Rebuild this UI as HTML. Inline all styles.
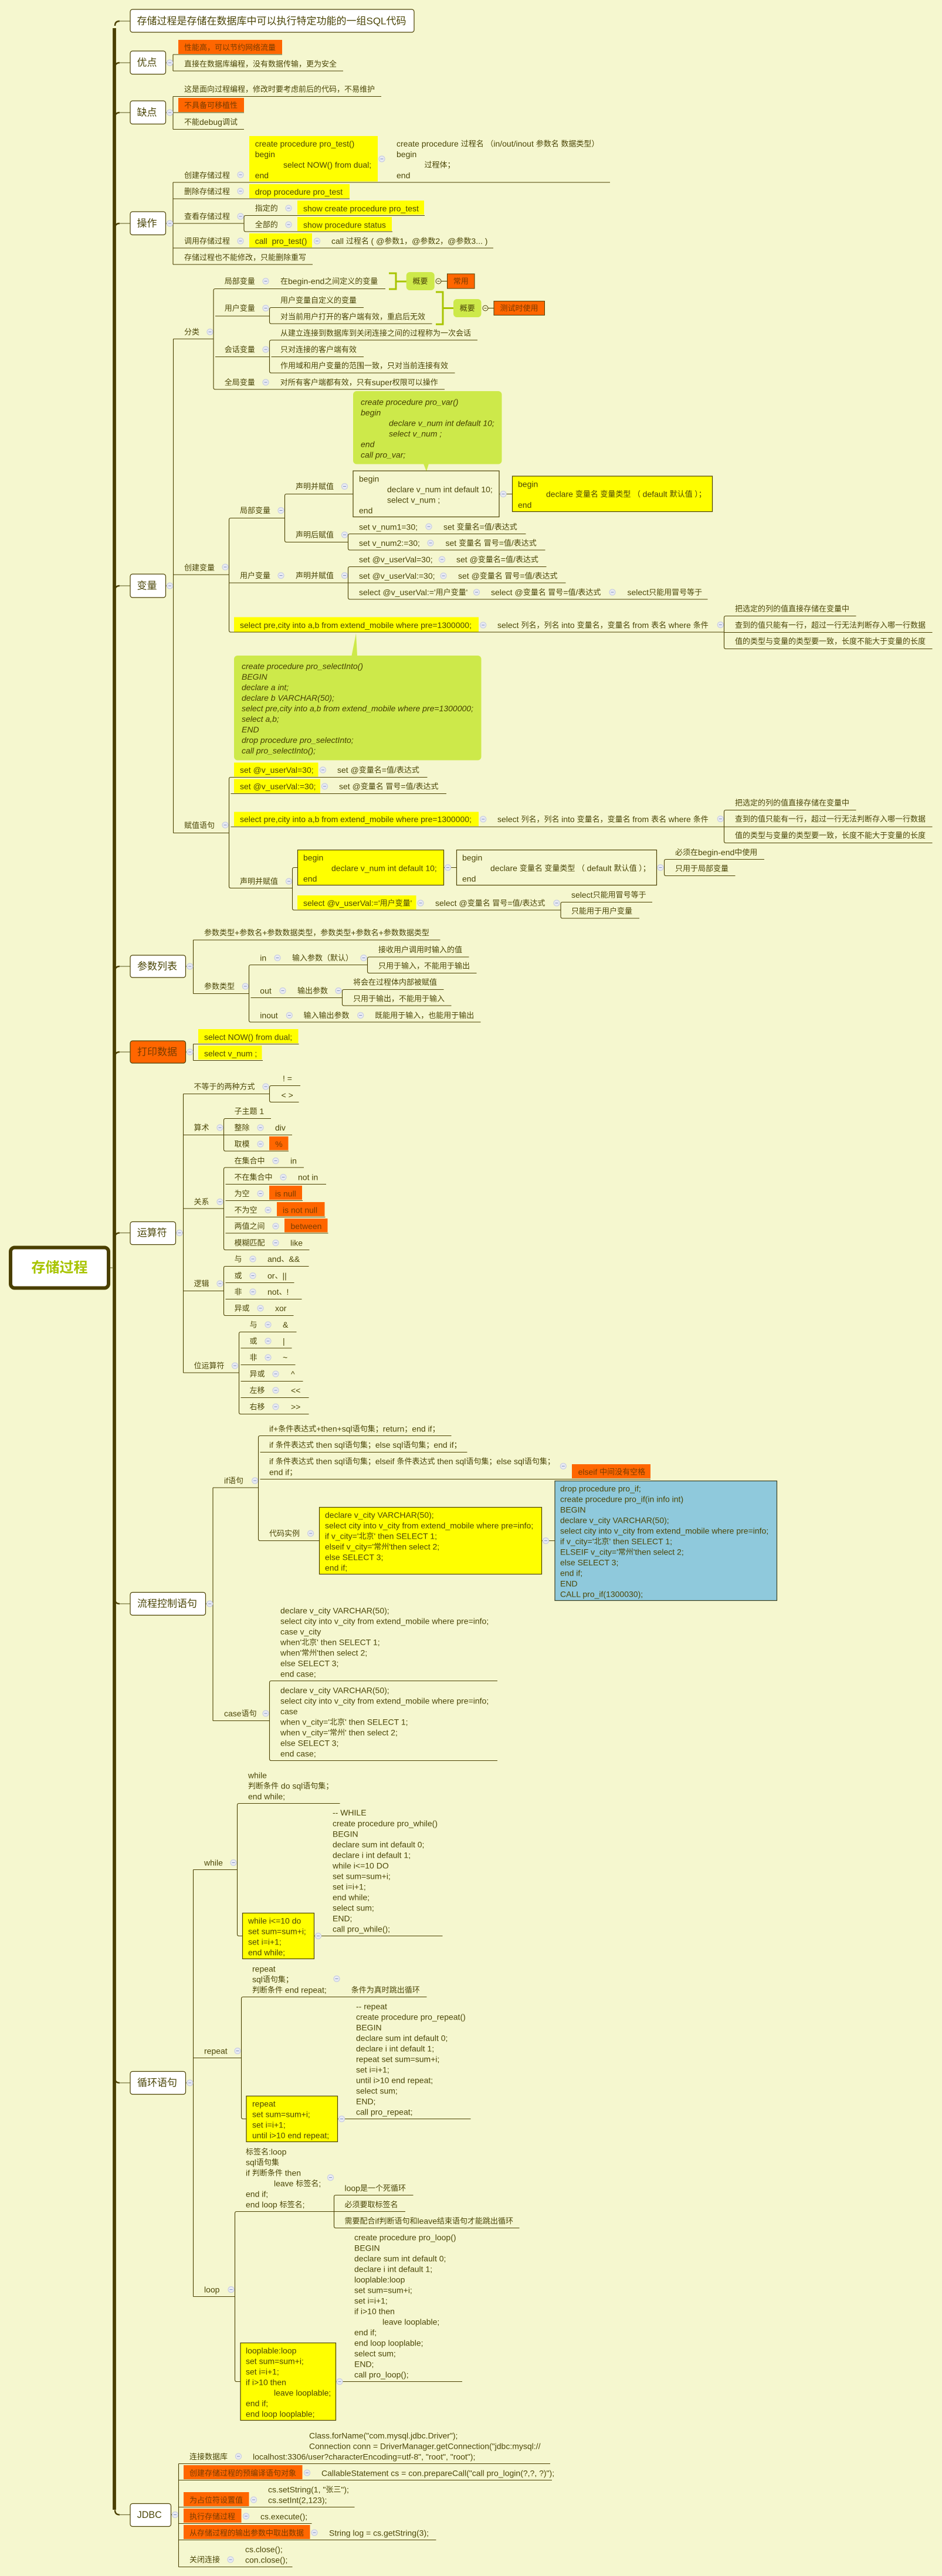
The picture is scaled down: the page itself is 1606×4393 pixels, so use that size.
<!DOCTYPE html>
<html lang="zh"><head><meta charset="utf-8"><title>存储过程</title>
<style>
html,body{margin:0;padding:0;background:#f5f7cf}
svg{display:block}
text{font-family:"Liberation Sans","Noto Sans CJK SC",sans-serif;font-size:14px;fill:#4c4708;dominant-baseline:central;white-space:pre}
.c{font-size:13px}
.e{font-size:14px}
.h{font-size:17px}
.it{font-style:italic;fill:#454000}
.o{fill:#7a3c00}
.l{fill:none;stroke:#4a4000;stroke-width:1.1}
.cr{fill:none;stroke:#4a3f00;stroke-width:2.4}
.bl{fill:none;stroke:#77753f;stroke-width:1.2}
.bx{fill:#fff;stroke:#4a4000;stroke-width:1.2}
.or{fill:#ff6600}
.ye{fill:#ffff00}
.yb{fill:#ffff00;stroke:#4a4000;stroke-width:1.2}
.gn{fill:#cde94a}
.nb{fill:none;stroke:#4a4000;stroke-width:1.2}
</style></head><body>
<svg xmlns="http://www.w3.org/2000/svg" width="1606" height="4393" viewBox="0 0 1606 4393">
<defs><g id="i"><circle r="5" fill="#e9ebf3" stroke="#c9cee2" stroke-width="1.2"/><path d="M-2.5,0H2.5" stroke="#7f8fc0" stroke-width="1"/></g></defs>
<rect width="1606" height="4393" fill="#f5f7cf"/>

<path d="M195,4280V48" fill="none" stroke="#4a3f00" stroke-width="5.800"/>
<path class="cr" d="M196,44Q196,36 204,36M196,115Q196,107 204,107M196,200Q196,192 204,192M196,389Q196,381 204,381M196,1007Q196,999 204,999M196,1656Q196,1648 204,1648M196,1802Q196,1794 204,1794M196,2110.500Q196,2102.500 204,2102.500M196,2727Q196,2735 204,2735M196,3544Q196,3552 204,3552M196,4280.500Q196,4288.500 204,4288.500"/>
<path class="bl" d="M203,36H222M203,107H222M203,192H222M203,381H222M203,999H222M203,1648H222M203,1794H222M203,2102.500H222M203,2735H222M203,3552H222M203,4288.500H222M187,2162H193"/>

<rect x="18" y="2127.500" width="167" height="69" rx="7" fill="#fff" stroke="#4a3f00" stroke-width="6"/>
<text x="101.500" y="2162" text-anchor="middle" style="font-size:24px;font-weight:bold;fill:#a8c400">存储过程</text>

<rect class="bx" x="222" y="16" width="484" height="39" rx="4"/>
<text x="233.500" y="36" style="font-size:17px">存储过程是存储在数据库中可以执行特定功能的一组SQL代码</text>

<!-- 优点 -->
<rect class="bx" x="222" y="87" width="60.500" height="39.500" rx="4"/>
<text class="h" x="233.500" y="107">优点</text>
<path class="l" d="M282,107H295M295,93V121M295,93H481M295,121H585"/>
<rect class="or" x="304" y="68" width="177" height="24"/>
<text class="c o" x="314" y="81">性能高，可以节约网络流量</text>
<text class="c" x="314" y="109">直接在数据库编程，没有数据传输，更为安全</text>
<use href="#i" x="289.500" y="107"/>

<!-- 缺点 -->
<rect class="bx" x="222" y="172" width="60.500" height="39.500" rx="4"/>
<text class="h" x="233.500" y="192">缺点</text>
<path class="l" d="M282,192H295M295,164.500V220.500M295,164.500H650M295,192H416M295,220.500H416"/>
<text class="c" x="314" y="152">这是面向过程编程，修改时要考虑前后的代码，不易维护</text>
<rect class="or" x="304" y="167" width="112" height="24"/>
<text class="c o" x="314" y="179.500">不具备可移植性</text>
<text class="c" x="314" y="208">不能<tspan class="e">debug</tspan>调试</text>
<use href="#i" x="289.500" y="192"/>

<!-- 操作 -->
<rect class="bx" x="222" y="361" width="60.500" height="39.500" rx="4"/>
<text class="h" x="233.500" y="381">操作</text>
<path class="l" d="M282,381H295M295,311V451M295,311H1040M295,339H596M295,381H416M419,367.500Q416,367.500 416,370.500V392Q416,395 419,395M419,367.500H724M419,395H669M295,423H841M295,451H533"/>
<text class="c" x="314" y="299">创建存储过程</text><use href="#i" x="410" y="298"/>
<rect class="ye" x="425" y="232" width="219" height="77.500"/>
<text x="434.700" y="245">create procedure pro_test()</text>
<text x="434.700" y="263">begin</text>
<text x="483" y="281">select NOW() from dual;</text>
<text x="434.700" y="299">end</text>
<use href="#i" x="651" y="271"/>
<text class="c" x="676" y="245"><tspan class="e">create procedure </tspan>过程名 （<tspan class="e">in/out/inout </tspan>参数名 数据类型）</text>
<text x="676" y="263">begin</text>
<text class="c" x="723.500" y="281">过程体；</text>
<text x="676" y="299">end</text>
<text class="c" x="314" y="326.500">删除存储过程</text><use href="#i" x="410" y="326"/>
<rect class="ye" x="425" y="314" width="171" height="24"/>
<text x="434.700" y="327">drop procedure pro_test</text>
<text class="c" x="314" y="369">查看存储过程</text><use href="#i" x="410" y="369"/>
<text class="c" x="434.700" y="355">指定的</text><use href="#i" x="492" y="355"/>
<rect class="ye" x="507" y="342" width="216" height="24"/>
<text x="517" y="355.500">show create procedure pro_test</text>
<text class="c" x="434.700" y="383">全部的</text><use href="#i" x="492" y="383"/>
<rect class="ye" x="507" y="370" width="161" height="24"/>
<text x="517" y="383.500">show procedure status</text>
<text class="c" x="314" y="411">调用存储过程</text><use href="#i" x="410" y="411"/>
<rect class="ye" x="425" y="398" width="107" height="24"/>
<text x="434.700" y="411">call  pro_test()</text>
<use href="#i" x="540.500" y="411"/>
<text class="c" x="565" y="411"><tspan class="e">call </tspan>过程名 <tspan class="e">( @</tspan>参数<tspan class="e">1</tspan>，<tspan class="e">@</tspan>参数<tspan class="e">2</tspan>，<tspan class="e">@</tspan>参数<tspan class="e">3... )</tspan></text>
<text class="c" x="314" y="439">存储过程也不能修改，只能删除重写</text>
<use href="#i" x="289.500" y="381"/>

<!-- 变量 -->
<rect class="bx" x="222" y="979" width="60.500" height="40" rx="4"/>
<text class="h" x="233.500" y="999">变量</text>
<path class="l" d="M282,999H295.500M295.500,578V1420.500M295.500,578H364M295.500,980H390.500M295.500,1420.500H390.500"/>
<text class="c" x="314" y="566">分类</text><use href="#i" x="358" y="566"/>
<path class="l" d="M367,492.500Q364,492.500 364,495.500V661Q364,664 367,664M367,492.500H657M367,539H459.500M367,608.500H459.500M367,664H758"/>
<text class="c" x="382.700" y="479.500">局部变量</text><use href="#i" x="453" y="479.500"/>
<text class="c" x="478" y="479.500">在<tspan class="e">begin-end</tspan>之间定义的变量</text>
<path d="M663,466H675V493H663M675,480H693" fill="none" stroke="#a8c400" stroke-width="3"/>
<rect x="692.700" y="464" width="48" height="31" rx="6" fill="#cde94a"/>
<text class="c" x="716.500" y="479.500" text-anchor="middle">概要</text>
<path class="l" d="M747,479.500H762.500"/><circle cx="747.500" cy="479.500" r="4.500" fill="#f5f7cf" stroke="#4a4000"/>
<path d="M745.500,479.500H749.500" stroke="#4a4000"/>
<rect x="762.500" y="467" width="46.500" height="25" fill="#ff6600" stroke="#4a4000"/>
<text class="c o" x="785.700" y="479.500" text-anchor="middle">常用</text>
<text class="c" x="382.700" y="525.500">用户变量</text><use href="#i" x="453" y="525.500"/>
<path class="l" d="M462.500,524.500Q459.500,524.500 459.500,527.500V549Q459.500,552 462.500,552M462.500,524.500H620M462.500,552H736.500"/>
<text class="c" x="478" y="512">用户变量自定义的变量</text>
<text class="c" x="478" y="540">对当前用户打开的客户端有效，重启后无效</text>
<path d="M743,498H755V553H743M755,525.500H773" fill="none" stroke="#a8c400" stroke-width="3"/>
<rect x="773" y="510" width="47.500" height="31" rx="6" fill="#cde94a"/>
<text class="c" x="796.700" y="525.500" text-anchor="middle">概要</text>
<path class="l" d="M827,525.500H842"/><circle cx="827.500" cy="525.500" r="4.500" fill="#f5f7cf" stroke="#4a4000"/>
<path d="M825.500,525.500H829.500" stroke="#4a4000"/>
<rect x="842" y="513.500" width="86.500" height="24" fill="#ff6600" stroke="#4a4000"/>
<text class="c o" x="885" y="525.500" text-anchor="middle">测试时使用</text>
<text class="c" x="382.700" y="596">会话变量</text><use href="#i" x="453" y="596"/>
<path class="l" d="M462.500,580Q459.500,580 459.500,583V633Q459.500,636 462.500,636M462.500,580H814M462.500,608.500H620M462.500,636H775.500"/>
<text class="c" x="478" y="568">从建立连接到数据库到关闭连接之间的过程称为一次会话</text>
<text class="c" x="478" y="596">只对连接的客户端有效</text>
<text class="c" x="478" y="623.500">作用域和用户变量的范围一致，只对当前连接有效</text>
<text class="c" x="382.700" y="652">全局变量</text><use href="#i" x="453" y="652"/>
<text class="c" x="477.700" y="652">对所有客户端都有效，只有<tspan class="e">super</tspan>权限可以操作</text>

<!-- note 1 -->
<rect class="gn" x="602" y="667" width="253.500" height="124.500" rx="6"/>
<polygon class="gn" points="722,791 731,791 727,804"/>
<text class="it" x="615" y="685.500">create procedure pro_var()</text>
<text class="it" x="615" y="703.500">begin</text>
<text class="it" x="663" y="721.500">declare v_num int default 10;</text>
<text class="it" x="663" y="739.500">select v_num ;</text>
<text class="it" x="615" y="757.500">end</text>
<text class="it" x="615" y="775.500">call pro_var;</text>

<!-- 创建变量 -->
<text class="c" x="314" y="968">创建变量</text><use href="#i" x="384" y="967"/>
<path class="l" d="M393.500,883.500Q390.500,883.500 390.500,886.500V1075Q390.500,1078 393.500,1078M393.500,883.500H485.500M390.500,994H593.500M393.500,1078H1234.500"/>
<text class="c" x="409" y="870.500">局部变量</text><use href="#i" x="479" y="870.500"/>
<path class="l" d="M488.500,842.500Q485.500,842.500 485.500,845.500V921.500Q485.500,924.500 488.500,924.500M488.500,842.500H602M488.500,924.500H593.500"/>
<text class="c" x="504" y="829.500">声明并赋值</text><use href="#i" x="587.500" y="829.500"/>
<rect class="nb" x="602" y="803" width="249" height="78.500"/>
<text x="612" y="816.500">begin</text>
<text x="660" y="834.500">declare v_num int default 10;</text>
<text x="660" y="852.500">select v_num ;</text>
<text x="612" y="870.500">end</text>
<path class="l" d="M851,842.500H873.500"/><use href="#i" x="858" y="842.500"/>
<rect class="yb" x="873.500" y="812" width="341" height="60.500"/>
<text x="883" y="825.500">begin</text>
<text class="c" x="931" y="842.500"><tspan class="e">declare </tspan>变量名 变量类型 （ <tspan class="e">default </tspan>默认值 ）；</text>
<text x="883" y="861">end</text>

<text class="c" x="504" y="912">声明后赋值</text><use href="#i" x="587.500" y="912"/>
<path class="l" d="M596.500,910.500Q593.500,910.500 593.500,913.500V935Q593.500,938 596.500,938M596.500,910.500H896.500M596.500,938H929.500"/>
<text x="612" y="898.500">set v_num1=30;</text><use href="#i" x="731" y="898"/>
<text class="c" x="756" y="898.500"><tspan class="e">set </tspan>变量名<tspan class="e">=</tspan>值<tspan class="e">/</tspan>表达式</text>
<text x="612" y="926">set v_num2:=30;</text><use href="#i" x="734" y="926"/>
<text class="c" x="759.500" y="926"><tspan class="e">set </tspan>变量名 冒号<tspan class="e">=</tspan>值<tspan class="e">/</tspan>表达式</text>

<text class="c" x="409" y="981.500">用户变量</text><use href="#i" x="479" y="981.500"/>
<text class="c" x="504" y="981.500">声明并赋值</text><use href="#i" x="587.500" y="981.500"/>
<path class="l" d="M596.500,966.500Q593.500,966.500 593.500,969.500V1019Q593.500,1022 596.500,1022M596.500,966.500H931.500M593.500,994H964.500M596.500,1022H1206.500"/>
<text x="612" y="954">set @v_userVal=30;</text><use href="#i" x="753.500" y="954"/>
<text class="c" x="778" y="954"><tspan class="e">set @</tspan>变量名<tspan class="e">=</tspan>值<tspan class="e">/</tspan>表达式</text>
<text x="612" y="982">set @v_userVal:=30;</text><use href="#i" x="756" y="982"/>
<text class="c" x="781" y="982"><tspan class="e">set @</tspan>变量名 冒号<tspan class="e">=</tspan>值<tspan class="e">/</tspan>表达式</text>
<text class="c" x="612" y="1010"><tspan class="e">select @v_userVal:='</tspan>用户变量<tspan class="e">'</tspan></text><use href="#i" x="812.500" y="1010"/>
<text class="c" x="837" y="1010"><tspan class="e">select @</tspan>变量名 冒号<tspan class="e">=</tspan>值<tspan class="e">/</tspan>表达式</text><use href="#i" x="1044" y="1010"/>
<text class="c" x="1069.500" y="1010"><tspan class="e">select</tspan>只能用冒号等于</text>

<rect class="ye" x="399" y="1052.500" width="417" height="25"/>
<text x="409" y="1066">select pre,city into a,b from extend_mobile where pre=1300000;</text>
<use href="#i" x="823.700" y="1066"/>
<text class="c" x="848" y="1066"><tspan class="e">select </tspan>列名，列名 <tspan class="e">into </tspan>变量名，变量名 <tspan class="e">from </tspan>表名 <tspan class="e">where </tspan>条件</text>
<use href="#i" x="1228.300" y="1065.500"/>
<path class="l" d="M1237.500,1050.500Q1234.500,1050.500 1234.500,1053.500V1103.500Q1234.500,1106.500 1237.500,1106.500M1237.500,1050.500H1459.500M1234.500,1078.500H1589.500M1237.500,1106.500H1589.500"/>
<text class="c" x="1253" y="1038">把选定的列的值直接存储在变量中</text>
<text class="c" x="1253" y="1066">查到的值只能有一行，超过一行无法判断存入哪一行数据</text>
<text class="c" x="1253" y="1093.500">值的类型与变量的类型要一致，长度不能大于变量的长度</text>

<!-- note 2 -->
<polygon class="gn" points="599.500,1118 609,1118 607,1080"/>
<rect class="gn" x="399" y="1118" width="421.500" height="178.500" rx="6"/>
<text class="it" x="412" y="1136">create procedure pro_selectInto()</text>
<text class="it" x="412" y="1154">BEGIN</text>
<text class="it" x="412" y="1172">declare a int;</text>
<text class="it" x="412" y="1190">declare b VARCHAR(50);</text>
<text class="it" x="412" y="1208">select pre,city into a,b from extend_mobile where pre=1300000;</text>
<text class="it" x="412" y="1226">select a,b;</text>
<text class="it" x="412" y="1244">END</text>
<text class="it" x="412" y="1262">drop procedure pro_selectInto;</text>
<text class="it" x="412" y="1280">call pro_selectInto();</text>

<!-- 赋值语句 -->
<text class="c" x="314" y="1407.500">赋值语句</text><use href="#i" x="384" y="1407"/>
<path class="l" d="M393.500,1325.500Q390.500,1325.500 390.500,1328.500V1511.500Q390.500,1514.500 393.500,1514.500M393.500,1325.500H728.500M393.500,1353.500H761M393.500,1410H1234.500M393.500,1514.500H498.500"/>
<rect class="ye" x="399" y="1300.500" width="143.500" height="24"/>
<text x="409" y="1313">set @v_userVal=30;</text><use href="#i" x="550.500" y="1313"/>
<text class="c" x="575" y="1313"><tspan class="e">set @</tspan>变量名<tspan class="e">=</tspan>值<tspan class="e">/</tspan>表达式</text>
<rect class="ye" x="399" y="1328.500" width="147" height="24"/>
<text x="409" y="1341">set @v_userVal:=30;</text><use href="#i" x="553.500" y="1341"/>
<text class="c" x="578" y="1341"><tspan class="e">set @</tspan>变量名 冒号<tspan class="e">=</tspan>值<tspan class="e">/</tspan>表达式</text>
<rect class="ye" x="399" y="1384.500" width="417" height="24.500"/>
<text x="409" y="1397">select pre,city into a,b from extend_mobile where pre=1300000;</text>
<use href="#i" x="823.700" y="1397"/>
<text class="c" x="848" y="1397"><tspan class="e">select </tspan>列名，列名 <tspan class="e">into </tspan>变量名，变量名 <tspan class="e">from </tspan>表名 <tspan class="e">where </tspan>条件</text>
<use href="#i" x="1228.300" y="1396.500"/>
<path class="l" d="M1237.500,1381.500Q1234.500,1381.500 1234.500,1384.500V1434.500Q1234.500,1437.500 1237.500,1437.500M1237.500,1381.500H1459.500M1234.500,1410H1589.500M1237.500,1437.500H1589.500"/>
<text class="c" x="1253" y="1369">把选定的列的值直接存储在变量中</text>
<text class="c" x="1253" y="1396.500">查到的值只能有一行，超过一行无法判断存入哪一行数据</text>
<text class="c" x="1253" y="1424.500">值的类型与变量的类型要一致，长度不能大于变量的长度</text>

<text class="c" x="409" y="1503">声明并赋值</text><use href="#i" x="492.500" y="1503"/>
<path class="l" d="M501.500,1479.500Q498.500,1479.500 498.500,1482.500V1549Q498.500,1552 501.500,1552M501.500,1479.500H507.500M501.500,1552H956"/>
<rect class="yb" x="507.500" y="1449.500" width="249" height="60"/>
<text x="517" y="1462.500">begin</text>
<text x="565" y="1480.500">declare v_num int default 10;</text>
<text x="517" y="1498.500">end</text>
<path class="l" d="M756.500,1479.500H778.500"/><use href="#i" x="763.500" y="1479.500"/>
<rect class="nb" x="778.500" y="1449.500" width="341" height="60"/>
<text x="788" y="1462.500">begin</text>
<text class="c" x="836" y="1480.500"><tspan class="e">declare </tspan>变量名 变量类型 （ <tspan class="e">default </tspan>默认值 ）；</text>
<text x="788" y="1498.500">end</text>
<use href="#i" x="1126" y="1479.500"/>
<path class="l" d="M1135.500,1465.500Q1132.500,1465.500 1132.500,1468.500V1490.500Q1132.500,1493.500 1135.500,1493.500M1135.500,1465.500H1303M1135.500,1493.500H1253.500"/>
<text class="c" x="1151" y="1453.500">必须在<tspan class="e">begin-end</tspan>中使用</text>
<text class="c" x="1151" y="1481">只用于局部变量</text>
<rect class="ye" x="507" y="1527" width="202.500" height="24"/>
<text class="c" x="517" y="1540"><tspan class="e">select @v_userVal:='</tspan>用户变量<tspan class="e">'</tspan></text><use href="#i" x="717" y="1540"/>
<text class="c" x="742" y="1540"><tspan class="e">select @</tspan>变量名 冒号<tspan class="e">=</tspan>值<tspan class="e">/</tspan>表达式</text><use href="#i" x="949" y="1540"/>
<path class="l" d="M959,1538.500Q956,1538.500 956,1541.500V1563Q956,1566 959,1566M959,1538.500H1112M959,1566H1090"/>
<text class="c" x="974" y="1526"><tspan class="e">select</tspan>只能用冒号等于</text>
<text class="c" x="974" y="1553.500">只能用于用户变量</text>
<use href="#i" x="289.500" y="999"/>

<!-- 参数列表 -->
<rect class="bx" x="222" y="1629" width="94.500" height="38" rx="4"/>
<text class="h" x="234" y="1648">参数列表</text>
<path class="l" d="M316,1648H329.500M329.500,1603V1694.500M329.500,1603H750.500M329.500,1694.500H424.500"/>
<use href="#i" x="323.700" y="1648"/>
<text class="c" x="348" y="1590.500">参数类型<tspan class="e">+</tspan>参数名<tspan class="e">+</tspan>参数数据类型，参数类型<tspan class="e">+</tspan>参数名<tspan class="e">+</tspan>参数数据类型</text>
<text class="c" x="348" y="1682">参数类型</text><use href="#i" x="418.300" y="1682"/>
<path class="l" d="M427.500,1645.500Q424.500,1645.500 424.500,1648.500V1740Q424.500,1743 427.500,1743M427.500,1645.500H626.500M427.500,1701.500H583.500M427.500,1743H819.500"/>
<text x="443.300" y="1633.500">in</text><use href="#i" x="473" y="1633.500"/>
<text class="c" x="498" y="1633.500">输入参数（默认）</text><use href="#i" x="620" y="1633.500"/>
<path class="l" d="M629.500,1632Q626.500,1632 626.500,1635V1656.500Q626.500,1659.500 629.500,1659.500M629.500,1632H799.500M629.500,1659.500H812.500"/>
<text class="c" x="645" y="1619.500">接收用户调用时输入的值</text>
<text class="c" x="645" y="1647">只用于输入，不能用于输出</text>
<text x="443.300" y="1689.500">out</text><use href="#i" x="482" y="1689.500"/>
<text class="c" x="507" y="1689.500">输出参数</text><use href="#i" x="577" y="1689.500"/>
<path class="l" d="M586.500,1687.500Q583.500,1687.500 583.500,1690.500V1712Q583.500,1715 586.500,1715M586.500,1687.500H756.500M586.500,1715H769.500"/>
<text class="c" x="602" y="1675">将会在过程体内部被赋值</text>
<text class="c" x="602" y="1703">只用于输出，不能用于输入</text>
<text x="443.300" y="1731.500">inout</text><use href="#i" x="493.300" y="1731.500"/>
<text class="c" x="517.500" y="1731.500">输入输出参数</text><use href="#i" x="614.700" y="1731.500"/>
<text class="c" x="639.300" y="1731.500">既能用于输入，也能用于输出</text>

<!-- 打印数据 -->
<rect x="222" y="1775" width="94.500" height="38" rx="4" fill="#ff6600" stroke="#4a4000" stroke-width="1.2"/>
<text class="h o" x="234" y="1794">打印数据</text>
<path class="l" d="M316,1794H329.500M329.500,1780.500V1808.500M329.500,1780.500H509.500M329.500,1808.500H448"/>
<use href="#i" x="323.700" y="1794"/>
<rect class="ye" x="338" y="1755" width="170.500" height="24"/>
<text x="348" y="1768.500">select NOW() from dual;</text>
<rect class="ye" x="338" y="1783" width="108.500" height="24"/>
<text x="348" y="1796.500">select v_num ;</text>

<!-- 运算符 -->
<rect class="bx" x="222" y="2083.500" width="77.500" height="39" rx="4"/>
<text class="h" x="233.700" y="2102.500">运算符</text>
<path class="l" d="M299,2102.500H312.500M312.500,1865.500V2341M312.500,1865.500H459.500M312.500,1935.500H381.500M312.500,2061H381.500M312.500,2201.500H381.500M312.500,2341H407.500"/>
<use href="#i" x="306" y="2102.500"/>
<text class="c" x="330.500" y="1853">不等于的两种方式</text><use href="#i" x="453" y="1853"/>
<path class="l" d="M462.500,1851.500Q459.500,1851.500 459.500,1854.500V1876.500Q459.500,1879.500 462.500,1879.500M462.500,1851.500H512M462.500,1879.500H509.500"/>
<text x="482" y="1839">! =</text>
<text x="479.500" y="1867.500">&lt; &gt;</text>

<text class="c" x="330.500" y="1923">算术</text><use href="#i" x="375" y="1923"/>
<path class="l" d="M384.500,1907.500Q381.500,1907.500 381.500,1910.500V1960Q381.500,1963 384.500,1963M384.500,1907.500H462M381.500,1935.500H498M384.500,1963H492"/>
<text class="c" x="399.500" y="1895">子主题<tspan class="e"> 1</tspan></text>
<text class="c" x="399.500" y="1923">整除</text><use href="#i" x="444" y="1923"/><text x="469" y="1923">div</text>
<text class="c" x="399.500" y="1951">取模</text><use href="#i" x="444" y="1951"/>
<rect class="or" x="459" y="1938" width="32.500" height="23.500"/><text class="o" x="475.500" y="1951" text-anchor="middle">%</text>

<text class="c" x="330.500" y="2049.500">关系</text><use href="#i" x="375" y="2049.500"/>
<path class="l" d="M384.500,1991Q381.500,1991 381.500,1994V2128.500Q381.500,2131.500 384.500,2131.500M384.500,1991H518M384.500,2019.500H556M384.500,2047.500H516M384.500,2075.500H554.500M384.500,2103H559.500M384.500,2131.500H527.500"/>
<text class="c" x="399.500" y="1979.500">在集合中</text><use href="#i" x="470" y="1979.500"/><text x="495" y="1979.500">in</text>
<text class="c" x="399.500" y="2007.500">不在集合中</text><use href="#i" x="483" y="2007.500"/><text x="508" y="2007.500">not in</text>
<text class="c" x="399.500" y="2035.500">为空</text><use href="#i" x="444" y="2035.500"/>
<rect class="or" x="459" y="2022" width="56" height="24"/><text class="o" x="469" y="2035.500">is null</text>
<text class="c" x="399.500" y="2063.500">不为空</text><use href="#i" x="457" y="2063.500"/>
<rect class="or" x="472" y="2050" width="81.500" height="24"/><text class="o" x="482" y="2063.500">is not null</text>
<text class="c" x="399.500" y="2091">两值之间</text><use href="#i" x="470" y="2091"/>
<rect class="or" x="485" y="2078" width="73.500" height="23.500"/><text class="o" x="495.500" y="2091">between</text>
<text class="c" x="399.500" y="2119.500">模糊匹配</text><use href="#i" x="470" y="2119.500"/><text x="495" y="2119.500">like</text>

<text class="c" x="330.500" y="2189">逻辑</text><use href="#i" x="375" y="2189"/>
<path class="l" d="M384.500,2159.500Q381.500,2159.500 381.500,2162.500V2240.500Q381.500,2243.500 384.500,2243.500M384.500,2159.500H526.500M384.500,2187.500H501.500M384.500,2215.500H514.500M384.500,2243.500H500.500"/>
<text class="c" x="399.500" y="2147">与</text><use href="#i" x="431" y="2147"/><text class="c" x="456" y="2147"><tspan class="e">and</tspan>、<tspan class="e">&amp;&amp;</tspan></text>
<text class="c" x="399.500" y="2175.500">或</text><use href="#i" x="431" y="2175.500"/><text class="c" x="456" y="2175.500"><tspan class="e">or</tspan>、<tspan class="e">||</tspan></text>
<text class="c" x="399.500" y="2203">非</text><use href="#i" x="431" y="2203"/><text class="c" x="456" y="2203"><tspan class="e">not</tspan>、<tspan class="e">!</tspan></text>
<text class="c" x="399.500" y="2231">异或</text><use href="#i" x="444" y="2231"/><text x="469" y="2231">xor</text>

<text class="c" x="330.500" y="2329">位运算符</text><use href="#i" x="400.500" y="2329"/>
<path class="l" d="M410.500,2271.500Q407.500,2271.500 407.500,2274.500V2408.500Q407.500,2411.500 410.500,2411.500M410.500,2271.500H505.500M410.500,2299H497.500M410.500,2327.500H503.500M410.500,2355.500H516.500M410.500,2383.500H526.500M410.500,2411.500H526.500"/>
<text class="c" x="425.500" y="2259">与</text><use href="#i" x="457" y="2259"/><text x="482" y="2259">&amp;</text>
<text class="c" x="425.500" y="2287">或</text><use href="#i" x="457" y="2287"/><text x="482" y="2287">|</text>
<text class="c" x="425.500" y="2315">非</text><use href="#i" x="457" y="2315"/><text x="482" y="2315">~</text>
<text class="c" x="425.500" y="2343">异或</text><use href="#i" x="470" y="2343"/><text x="496" y="2343">^</text>
<text class="c" x="425.500" y="2371">左移</text><use href="#i" x="470" y="2371"/><text x="496" y="2371">&lt;&lt;</text>
<text class="c" x="425.500" y="2399">右移</text><use href="#i" x="470" y="2399"/><text x="496" y="2399">&gt;&gt;</text>

<!-- 流程控制语句 -->
<rect class="bx" x="222" y="2715.500" width="128.500" height="39" rx="4"/>
<text class="h" x="234" y="2735">流程控制语句</text>
<path class="l" d="M350,2735H363M363,2537V2934.500M363,2537H440.500M363,2934.500H459.500"/>
<use href="#i" x="357.600" y="2735"/>
<text class="c" x="382" y="2525"><tspan class="e">if</tspan>语句</text><use href="#i" x="434.700" y="2525"/>
<path class="l" d="M443.500,2448.500Q440.500,2448.500 440.500,2451.500V2624.500Q440.500,2627.500 443.500,2627.500M443.500,2448.500H769.500M443.500,2476.500H796.500M443.500,2522.500H1109M443.500,2627.500H544.500"/>
<text class="c" x="459" y="2436.500"><tspan class="e">if+</tspan>条件表达式<tspan class="e">+then+sql</tspan>语句集；<tspan class="e">return</tspan>；<tspan class="e">end if</tspan>；</text>
<text class="c" x="459" y="2464"><tspan class="e">if </tspan>条件表达式<tspan class="e"> then sql</tspan>语句集；<tspan class="e">else sql</tspan>语句集；<tspan class="e">end if</tspan>；</text>
<text class="c" x="459" y="2492"><tspan class="e">if </tspan>条件表达式<tspan class="e"> then sql</tspan>语句集；<tspan class="e">elseif </tspan>条件表达式<tspan class="e"> then sql</tspan>语句集；<tspan class="e">else sql</tspan>语句集；</text>
<text class="c" x="459" y="2510.500"><tspan class="e">end if</tspan>；</text>
<use href="#i" x="960.300" y="2500.300"/>
<rect class="or" x="975" y="2497" width="134" height="24"/>
<text class="c o" x="985.600" y="2510"><tspan class="e">elseif </tspan>中间没有空格</text>
<text class="c" x="459" y="2615">代码实例</text><use href="#i" x="529.600" y="2615"/>
<rect class="yb" x="544.500" y="2570.500" width="379" height="114"/>
<text x="554" y="2583.500">declare v_city VARCHAR(50);</text>
<text x="554" y="2601.500">select city into v_city from extend_mobile where pre=info;</text>
<text class="c" x="554" y="2619.500"><tspan class="e">if v_city='</tspan>北京<tspan class="e">' then SELECT 1;</tspan></text>
<text class="c" x="554" y="2637.500"><tspan class="e">elseif v_city='</tspan>常州<tspan class="e">'then select 2;</tspan></text>
<text x="554" y="2655.500">else SELECT 3;</text>
<text x="554" y="2673.500">end if;</text>
<path class="l" d="M923.500,2627.500H946"/><use href="#i" x="930.500" y="2627.500"/>
<rect x="946" y="2525.500" width="378.500" height="204" fill="#8fc9dc" stroke="#3a4020" stroke-width="1.2"/>
<text x="955" y="2538.500">drop procedure pro_if;</text>
<text x="955" y="2556.500">create procedure pro_if(in info int)</text>
<text x="955" y="2574.500">BEGIN</text>
<text x="955" y="2592.500">declare v_city VARCHAR(50);</text>
<text x="955" y="2610.500">select city into v_city from extend_mobile where pre=info;</text>
<text class="c" x="955" y="2628.500"><tspan class="e">if v_city='</tspan>北京<tspan class="e">' then SELECT 1;</tspan></text>
<text class="c" x="955" y="2646.500"><tspan class="e">ELSEIF v_city='</tspan>常州<tspan class="e">'then select 2;</tspan></text>
<text x="955" y="2664.500">else SELECT 3;</text>
<text x="955" y="2682.500">end if;</text>
<text x="955" y="2700.500">END</text>
<text x="955" y="2718.500">CALL pro_if(1300030);</text>

<text class="c" x="382" y="2922"><tspan class="e">case</tspan>语句</text><use href="#i" x="453" y="2922"/>
<path class="l" d="M462.500,2866.500Q459.500,2866.500 459.500,2869.500V2999.500Q459.500,3002.500 462.500,3002.500M462.500,2866.500H848M462.500,3002.500H848"/>
<text x="478" y="2746.500">declare v_city VARCHAR(50);</text>
<text x="478" y="2764.500">select city into v_city from extend_mobile where pre=info;</text>
<text x="478" y="2782.500">case v_city</text>
<text class="c" x="478" y="2800.500"><tspan class="e">when'</tspan>北京<tspan class="e">' then SELECT 1;</tspan></text>
<text class="c" x="478" y="2818.500"><tspan class="e">when'</tspan>常州<tspan class="e">'then select 2;</tspan></text>
<text x="478" y="2836.500">else SELECT 3;</text>
<text x="478" y="2854.500">end case;</text>
<text x="478" y="2882.500">declare v_city VARCHAR(50);</text>
<text x="478" y="2900.500">select city into v_city from extend_mobile where pre=info;</text>
<text x="478" y="2918.500">case</text>
<text class="c" x="478" y="2936.500"><tspan class="e">when v_city='</tspan>北京<tspan class="e">' then SELECT 1;</tspan></text>
<text class="c" x="478" y="2954.500"><tspan class="e">when v_city='</tspan>常州<tspan class="e">' then select 2;</tspan></text>
<text x="478" y="2972.500">else SELECT 3;</text>
<text x="478" y="2990.500">end case;</text>

<!-- 循环语句 -->
<rect class="bx" x="222" y="3532.500" width="94.500" height="39" rx="4"/>
<text class="h" x="234" y="3552">循环语句</text>
<path class="l" d="M316,3552H329.500M329.500,3188.500V3916.500M329.500,3188.500H404.500M329.500,3509.500H411.500M329.500,3916.500H400.500"/>
<use href="#i" x="323.700" y="3552"/>

<text x="348" y="3176.500">while</text><use href="#i" x="398" y="3176.500"/>
<path class="l" d="M407.500,3075.500Q404.500,3075.500 404.500,3078.500V3298.500Q404.500,3301.500 407.500,3301.500M407.500,3075.500H579.500M407.500,3301.500H413.500M535.500,3301.500H754.500"/>
<text x="423" y="3027.500">while</text>
<text class="c" x="423" y="3045.500">判断条件<tspan class="e"> do sql</tspan>语句集；</text>
<text x="423" y="3063.500">end while;</text>
<rect class="yb" x="413.500" y="3262.500" width="122" height="78"/>
<text x="423" y="3275.500">while i&lt;=10 do</text>
<text x="423" y="3293.500">set sum=sum+i;</text>
<text x="423" y="3311.500">set i=i+1;</text>
<text x="423" y="3329.500">end while;</text>
<use href="#i" x="542.500" y="3301.500"/>
<text x="567" y="3091">-- WHILE</text>
<text x="567" y="3109.500">create procedure pro_while()</text>
<text x="567" y="3127.500">BEGIN</text>
<text x="567" y="3145.500">declare sum int default 0;</text>
<text x="567" y="3163.500">declare i int default 1;</text>
<text x="567" y="3181.500">while i&lt;=10 DO</text>
<text x="567" y="3199.500">set sum=sum+i;</text>
<text x="567" y="3217.500">set i=i+1;</text>
<text x="567" y="3235.500">end while;</text>
<text x="567" y="3253.500">select sum;</text>
<text x="567" y="3271.500">END;</text>
<text x="567" y="3289.500">call pro_while();</text>

<text x="348" y="3497.500">repeat</text><use href="#i" x="405" y="3497.500"/>
<path class="l" d="M414.500,3405.500Q411.500,3405.500 411.500,3408.500V3610.500Q411.500,3613.500 414.500,3613.500M414.500,3405.500H727.500M414.500,3613.500H420M575.500,3613.500H802.500"/>
<text x="430" y="3357.500">repeat</text>
<text class="c" x="430" y="3375.500"><tspan class="e">sql</tspan>语句集；</text>
<text class="c" x="430" y="3393.500">判断条件<tspan class="e"> end repeat;</tspan></text>
<use href="#i" x="574" y="3374.500"/>
<text class="c" x="598.700" y="3393.500">条件为真时跳出循环</text>
<text x="607" y="3421.500">-- repeat</text>
<text x="607" y="3439.500">create procedure pro_repeat()</text>
<text x="607" y="3457.500">BEGIN</text>
<text x="607" y="3475.500">declare sum int default 0;</text>
<text x="607" y="3493.500">declare i int default 1;</text>
<text x="607" y="3511.500">repeat set sum=sum+i;</text>
<text x="607" y="3529.500">set i=i+1;</text>
<text x="607" y="3547.500">until i&gt;10 end repeat;</text>
<text x="607" y="3565.500">select sum;</text>
<text x="607" y="3583.500">END;</text>
<text x="607" y="3601.500">call pro_repeat;</text>
<rect class="yb" x="420" y="3574.500" width="155.500" height="78"/>
<text x="430" y="3587.500">repeat</text>
<text x="430" y="3605.500">set sum=sum+i;</text>
<text x="430" y="3623.500">set i=i+1;</text>
<text x="430" y="3641.500">until i&gt;10 end repeat;</text>
<use href="#i" x="582.500" y="3613.500"/>

<text x="348" y="3904.500">loop</text><use href="#i" x="394" y="3904.500"/>
<path class="l" d="M403.500,3771.500Q400.500,3771.500 400.500,3774.500V4058.500Q400.500,4061.500 403.500,4061.500M403.500,3771.500H691M403.500,4061.500H410M572.500,4061.500H788M572.500,3743.500Q569.500,3743.500 569.500,3746.500V3796.500Q569.500,3799.500 572.500,3799.500M572.500,3743.500H704.500M572.500,3799.500H885.500"/>
<text class="c" x="419" y="3669.500">标签名<tspan class="e">:loop</tspan></text>
<text class="c" x="419" y="3687.500"><tspan class="e">sql</tspan>语句集</text>
<text class="c" x="419" y="3705.500"><tspan class="e">if </tspan>判断条件<tspan class="e"> then</tspan></text>
<text class="c" x="467" y="3723.500"><tspan class="e">leave </tspan>标签名<tspan class="e">;</tspan></text>
<text x="419" y="3741.500">end if;</text>
<text class="c" x="419" y="3759.500"><tspan class="e">end loop </tspan>标签名<tspan class="e">;</tspan></text>
<use href="#i" x="563.500" y="3713.500"/>
<text class="c" x="587.500" y="3731.500"><tspan class="e">loop</tspan>是一个死循环</text>
<text class="c" x="587.500" y="3759.500">必须要取标签名</text>
<text class="c" x="587.500" y="3787.500">需要配合<tspan class="e">if</tspan>判断语句和<tspan class="e">leave</tspan>结束语句才能跳出循环</text>
<text x="604" y="3815.500">create procedure pro_loop()</text>
<text x="604" y="3833.500">BEGIN</text>
<text x="604" y="3851.500">declare sum int default 0;</text>
<text x="604" y="3869.500">declare i int default 1;</text>
<text x="604" y="3887.500">looplable:loop</text>
<text x="604" y="3905.500">set sum=sum+i;</text>
<text x="604" y="3923.500">set i=i+1;</text>
<text x="604" y="3941.500">if i&gt;10 then</text>
<text x="652" y="3959.500">leave looplable;</text>
<text x="604" y="3977.500">end if;</text>
<text x="604" y="3995.500">end loop looplable;</text>
<text x="604" y="4013.500">select sum;</text>
<text x="604" y="4031.500">END;</text>
<text x="604" y="4049.500">call pro_loop();</text>
<rect class="yb" x="410" y="3995.500" width="162.500" height="132"/>
<text x="419" y="4008.500">looplable:loop</text>
<text x="419" y="4026.500">set sum=sum+i;</text>
<text x="419" y="4044.500">set i=i+1;</text>
<text x="419" y="4062.500">if i&gt;10 then</text>
<text x="467" y="4080.500">leave looplable;</text>
<text x="419" y="4098.500">end if;</text>
<text x="419" y="4116.500">end loop looplable;</text>
<use href="#i" x="579" y="4061.500"/>

<!-- JDBC -->
<rect class="bx" x="222" y="4269.500" width="69.500" height="39" rx="4"/>
<text class="h" x="233.700" y="4288.500" textLength="42" lengthAdjust="spacingAndGlyphs">JDBC</text>
<path class="l" d="M291,4288.500H304.500M304.500,4201.500V4377.500M304.500,4201.500H938M304.500,4229.500H941M304.500,4275.500H604.500M304.500,4303.500H531.500M304.500,4331.500H743.500M304.500,4377.500H498.500"/>
<use href="#i" x="298.500" y="4288.500"/>
<text class="c" x="323" y="4189.500">连接数据库</text><use href="#i" x="406.500" y="4189"/>
<text x="527" y="4153.500">Class.forName("com.mysql.jdbc.Driver");</text>
<text x="527" y="4171.500">Connection conn = DriverManager.getConnection("jdbc:mysql://</text>
<text x="431" y="4189.500">localhost:3306/user?characterEncoding=utf-8", "root", "root");</text>
<rect class="or" x="313" y="4204" width="202.500" height="24"/>
<text class="c o" x="323" y="4217.500">创建存储过程的预编译语句对象</text><use href="#i" x="523.500" y="4217"/>
<text x="548" y="4217.500">CallableStatement cs = con.prepareCall("call pro_login(?,?, ?)");</text>
<text class="c" x="457" y="4245.500"><tspan class="e">cs.setString(1, "</tspan>张三<tspan class="e">");</tspan></text>
<rect class="or" x="313" y="4250" width="111.500" height="24"/>
<text class="c o" x="323" y="4263.500">为占位符设置值</text><use href="#i" x="432.500" y="4263"/>
<text x="457" y="4263.500">cs.setInt(2,123);</text>
<rect class="or" x="313" y="4278" width="98.500" height="24"/>
<text class="c o" x="323" y="4291.500">执行存储过程</text><use href="#i" x="419.500" y="4291"/>
<text x="444" y="4291.500">cs.execute();</text>
<rect class="or" x="313" y="4306" width="215.500" height="24"/>
<text class="c o" x="323" y="4319.500">从存储过程的输出参数中取出数据</text><use href="#i" x="536" y="4319"/>
<text x="561" y="4319.500">String log = cs.getString(3);</text>
<text class="c" x="323" y="4365">关闭连接</text><use href="#i" x="393" y="4365"/>
<text x="418" y="4347.500">cs.close();</text>
<text x="418" y="4365.500">con.close();</text>
</svg>
</body></html>
